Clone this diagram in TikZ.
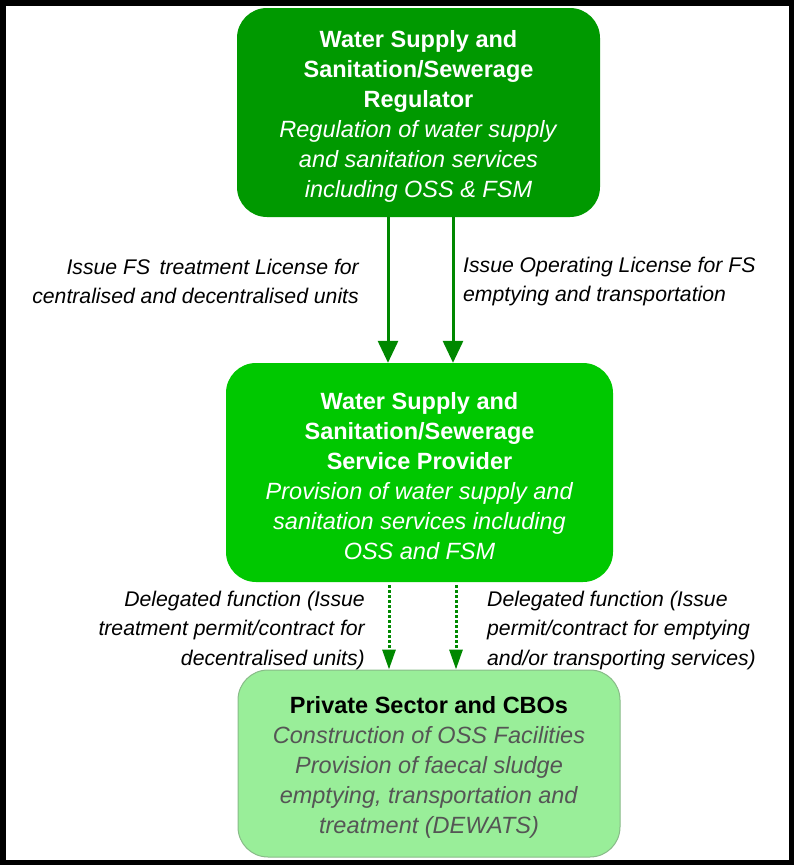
\documentclass[tikz,border=0pt]{standalone}
\usepackage{fontspec}
\setmainfont{Liberation Sans}
\usetikzlibrary{arrows.meta,calc}
\definecolor{darkg}{HTML}{009900}
\definecolor{midg}{HTML}{00C800}
\definecolor{lightg}{HTML}{99EE99}
\definecolor{lightgb}{HTML}{88BB88}
\definecolor{arrowg}{HTML}{008800}
\definecolor{bodygray}{HTML}{555555}
\newcommand{\topstrut}{\rule{0pt}{24pt}}
\tikzset{
  box/.style={rounded corners=30pt, align=center, inner sep=0pt, font=\fontsize{23.5}{30}\selectfont},
  lbl/.style={font=\itshape\fontsize{21.2}{29.5}\selectfont, inner sep=0pt},
  solidarrow/.style={draw=arrowg, line width=3pt, -{Triangle[length=22pt,width=20pt]}},
  dotarrow/.style={draw=arrowg, line width=3pt, dotted, -{Triangle[length=20pt,width=13pt]}},
}
\begin{document}
\begin{tikzpicture}[x=1pt,y=-1pt]
\useasboundingbox (0,0) rectangle (794,865);
\fill[white] (0,0) rectangle (794,865);
\draw[black, line width=5.5pt] (2.75,2.75) rectangle (791.25,862.25);

\node[box, fill=darkg, text=white, minimum width=363pt, minimum height=209pt] (reg) at (418.5,112.5)
 {\topstrut\textbf{Water Supply and}\\ \textbf{Sanitation/Sewerage}\\ \textbf{Regulator}\\
  \textit{Regulation of water supply}\\ \textit{and sanitation services}\\ \textit{including OSS \& FSM}};

\node[box, fill=midg, text=white, minimum width=387pt, minimum height=219pt] (prov) at (419.5,472.5)
 {\topstrut\textbf{Water Supply and}\\ \textbf{Sanitation/Sewerage}\\ \textbf{Service Provider}\\
  \textit{Provision of water supply and}\\ \textit{sanitation services including}\\ \textit{OSS and FSM}};

\node[box, fill=lightg, draw=lightgb, line width=1pt, text=bodygray, minimum width=382pt, minimum height=187pt] (priv) at (429,763.5)
 {\topstrut\textcolor{black}{\textbf{Private Sector and CBOs}}\\
  \textit{Construction of OSS Facilities}\\ \textit{Provision of faecal sludge}\\
  \textit{emptying, transportation and}\\ \textit{treatment (DEWATS)}};

\coordinate (xa) at (388,0);
\coordinate (xb) at (453,0);
\coordinate (xc) at (389,0);
\coordinate (xd) at (456,0);

\draw[solidarrow] (reg.south -| xa) -- (prov.north -| xa);
\draw[solidarrow] (reg.south -| xb) -- (prov.north -| xb);
\draw[dotarrow] ($(prov.south -| xc)+(0,3)$) -- (priv.north -| xc);
\draw[dotarrow] ($(prov.south -| xd)+(0,3)$) -- (priv.north -| xd);

\node[lbl, align=right, anchor=east] (l1) at (359,281.5) {Issue FS\, treatment License for\\ centralised and decentralised units};
\node[lbl, align=left, anchor=west] (l2) at (463,281.5) {Issue Operating License for FS\\ emptying and transportation};
\node[lbl, align=right, anchor=east] (l3) at (365,630.5) {Delegated function (Issue\\ treatment permit/contract for\\ decentralised units)};
\node[lbl, align=left, anchor=west] (l4) at (487,630.5) {Delegated function (Issue\\ permit/contract for emptying\\ and/or transporting services)};
\end{tikzpicture}
\end{document}
